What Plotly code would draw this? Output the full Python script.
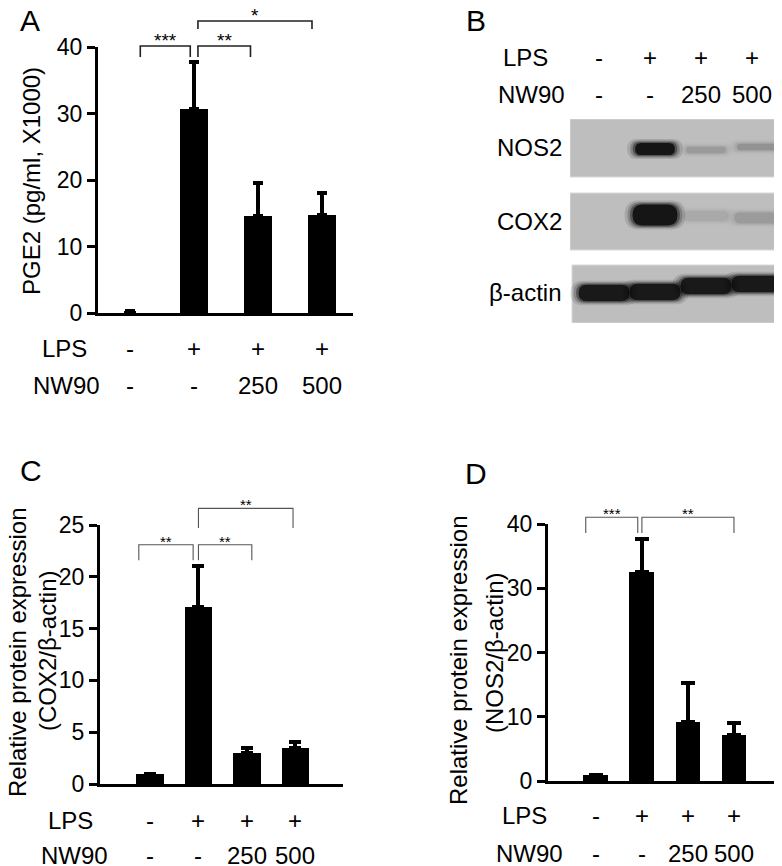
import plotly.graph_objects as go

## treatment rows shared by every panel
groups = [0, 1, 2, 3]
lps = ["-", "+", "+", "+"]
nw90 = ["-", "-", "250", "500"]

## A: PGE2 (pg/ml, x1000), mean and upper error
pge2_mean = [0.25, 30.7, 14.6, 14.7]
pge2_err = [None, 7.1, 4.9, 3.3]

## C: COX2 / beta-actin
cox2_mean = [1.0, 17.1, 3.0, 3.5]
cox2_err = [None, 3.9, 0.5, 0.6]

## D: NOS2 / beta-actin
nos2_mean = [1.0, 32.5, 9.2, 7.1]
nos2_err = [None, 5.1, 6.0, 1.9]

## B: western blot, band intensity per lane (0 = no band, 1 = saturated)
blot_labels = ["NOS2", "COX2", "β-actin"]
nos2_band = [0.0, 1.0, 0.13, 0.16]
cox2_band = [0.0, 1.0, 0.07, 0.12]
actin_band = [0.95, 0.95, 0.95, 0.95]

## significance brackets: (from group, to group, label)
sig_a = [(0.16, 0.94, "***"), (1.06, 1.88, "**"), (1.06, 2.84, "*")]
sig_c = [(-0.23, 0.89, "**"), (1.0, 2.1, "**"), (1.0, 2.95, "**")]
sig_d = [(-0.22, 0.91, "***"), (1.0, 3.0, "**")]

W, H = 782, 866
OFF = 8  # the page body margin moves the figure by this much
FONT = "Liberation Sans, Arial, Helvetica, sans-serif"


def px(x):
    return (x - OFF) / W


def py(y):
    return 1 - (y - OFF) / H


def label(fig, text, x, y, size=24, xref="paper", **kw):
    ## plain centred text; x in paper or data units, y in page pixels from the top
    fig.add_annotation(x=x, y=py(y), xref=xref, yref="paper", text=text, showarrow=False,
                       xanchor=kw.pop("xanchor", "center"), yanchor="middle",
                       font=dict(family=FONT, size=size, color="black"), **kw)


fig = go.Figure()

## bar panels: axis ids, pixel box, ranges, styling
panels = [
    dict(xa="x", ya="y", mean=pge2_mean, err=pge2_err, box=(98, 353, 313, 47), xr=[-0.5, 3.48],
         ymax=40, dtick=10, width=[0.2, 0.44, 0.44, 0.44], cap=5, sig=sig_a,
         levels=[(40.15, 38.5), (40.15, 38.5), (43.9, 42.7)], sig_style=(1.6, "#222222", 19),
         rows=(348, 385), rowlab=(64, 66), letter=("A", 30, 20)),
    dict(xa="x2", ya="y2", mean=cox2_mean, err=cox2_err, box=(100, 343, 784, 525), xr=[-1.03, 3.98],
         ymax=25, dtick=5, width=[0.56] * 4, cap=6, sig=sig_c,
         levels=[(23.1, 21.6), (23.1, 21.6), (26.6, 24.7)], sig_style=(1.1, "#555555", 15),
         rows=(820, 855), rowlab=(70, 74), letter=("C", 31, 470)),
    dict(xa="x3", ya="y3", mean=nos2_mean, err=nos2_err, box=(548, 780, 781, 524), xr=[-1.04, 4.0],
         ymax=40, dtick=10, width=[0.54] * 4, cap=7, sig=sig_d,
         levels=[(41.06, 38.6), (41.06, 38.6)], sig_style=(1.1, "#555555", 15),
         rows=(815, 853), rowlab=(524, 529), letter=("D", 476, 474)),
]

for i, p in enumerate(panels):
    x0, x1, y0, y1 = p["box"]
    sfx = "" if i == 0 else str(i + 1)
    fig.add_trace(go.Bar(
        x=groups, y=p["mean"], width=p["width"], marker=dict(color="black", line=dict(width=0)),
        error_y=dict(type="data", array=p["err"], arrayminus=[0, 0, 0, 0], symmetric=False,
                     color="black", thickness=4, width=p["cap"]),
        xaxis=p["xa"], yaxis=p["ya"], showlegend=False, hoverinfo="skip"))
    fig.update_layout(**{
        "xaxis" + sfx: dict(domain=[px(x0), px(x1)], range=p["xr"], showline=True, linewidth=3,
                            linecolor="black", showgrid=False, zeroline=False, ticks="",
                            showticklabels=False, anchor=p["ya"], automargin=False),
        "yaxis" + sfx: dict(domain=[py(y0), py(y1)], range=[0, p["ymax"]], dtick=p["dtick"],
                            showline=True, linewidth=3, linecolor="black", showgrid=False,
                            zeroline=False, ticks="outside", ticklen=8, tickwidth=3,
                            tickcolor="black", anchor=p["xa"], automargin=False,
                            tickfont=dict(family=FONT, size=23, color="black")),
    })

    ## brackets and asterisks, y given in data units then mapped onto the axis domain
    lw, lc, fs = p["sig_style"]
    for (a, b, lab), (top, low) in zip(p["sig"], p["levels"]):
        t, l = top / p["ymax"], low / p["ymax"]
        fig.add_shape(type="path", xref=p["xa"], yref=p["ya"] + " domain",
                      path=f"M {a},{l} L {a},{t} L {b},{t} L {b},{l}",
                      line=dict(color=lc, width=lw))
        fig.add_annotation(x=(a + b) / 2, xref=p["xa"], y=t, yref=p["ya"] + " domain",
                           text=lab, showarrow=False, xanchor="center", yanchor="bottom",
                           yshift=-7, font=dict(family=FONT, size=fs, color="black"))

    ## LPS / NW90 rows under the axis
    r1, r2 = p["rows"]
    for g, a, b in zip(groups, lps, nw90):
        label(fig, a, g, r1, xref=p["xa"])
        label(fig, b, g, r2, xref=p["xa"])
    label(fig, "LPS", px(p["rowlab"][0]), r1)
    label(fig, "NW90", px(p["rowlab"][1]), r2)

    let, lx, ly = p["letter"]
    label(fig, let, px(lx), ly, size=30)

## y axis titles
titles = [
    ("PGE2 (pg/ml, X1000)", 31, 181),
    ("Relative protein expression", 17, 652),
    ("(COX2/β-actin)", 47, 651),
    ("Relative protein expression", 458, 660),
    ("(NOS2/β-actin)", 494, 653),
]
for txt, tx, ty in titles:
    label(fig, txt, px(tx), ty, textangle=-90)

## B: western blot on its own axes, x in lanes, y in page pixels
LANE_PX = 51.0
blot_x = [(570 - 604) / LANE_PX, (W + OFF - 604) / LANE_PX]
fig.update_layout(
    xaxis4=dict(domain=[px(570), 1.0], range=blot_x, visible=False, anchor="y4"),
    yaxis4=dict(domain=[py(323), py(119)], range=[323, 119], visible=False, anchor="x4"),
)
fig.add_trace(go.Scatter(x=groups, y=[150, 150, 150, 150], mode="markers", marker=dict(opacity=0),
                         xaxis="x4", yaxis="y4", showlegend=False, hoverinfo="skip"))

blot_rows = [
    ## band values, strip top/bottom, band centre y per lane, band half width (lanes), band height (px)
    dict(vals=nos2_band, strip=(119, 177), yc=[149, 149, 150, 147], hw=0.39, h=12),
    dict(vals=cox2_band, strip=(193, 250), yc=[215, 215, 216, 218], hw=0.44, h=21),
    dict(vals=actin_band, strip=(265, 323), yc=[293, 292, 286, 284], hw=0.50, h=17),
]


def band_path(xc, yc, hw, h):
    r = (h / 2) / LANE_PX
    a, b = xc - hw, xc + hw
    t, u = yc - h / 2, yc + h / 2
    return (f"M {a + r},{t} L {b - r},{t} Q {b},{t} {b},{yc} Q {b},{u} {b - r},{u} "
            f"L {a + r},{u} Q {a},{u} {a},{yc} Q {a},{t} {a + r},{t} Z")


for k, row in enumerate(blot_rows):
    s0, s1 = row["strip"]
    left = blot_x[0] if k < 2 else blot_x[0] + 2 / LANE_PX
    fig.add_shape(type="rect", xref="x4", yref="y4", x0=left, x1=blot_x[1] + 1, y0=s0, y1=s1,
                  fillcolor="#bebebe", line=dict(color="#d8d8d8", width=1), layer="above")
    for g, v, yc in zip(groups, row["vals"], row["yc"]):
        if v <= 0:
            continue
        h = row["h"] * (0.45 + 0.55 * v)
        for grow, op in [(8, 0.12), (5, 0.22), (2.5, 0.4), (0, 0.85)]:
            fig.add_shape(type="path", xref="x4", yref="y4", layer="above",
                          path=band_path(g, yc, row["hw"] + grow / LANE_PX, h + grow),
                          fillcolor="#0a0a0a", opacity=min(1.0, op * v), line=dict(width=0))
    label(fig, blot_labels[k], px(564), sum(row["strip"]) / 2 + (-2 if k == 2 else 0),
          xanchor="right")

for g, a, b in zip(groups, lps, nw90):
    label(fig, a, g, 58, xref="x4", xshift=-5)
    label(fig, b, g, 95, xref="x4", xshift=-5)
label(fig, "LPS", px(525), 58)
label(fig, "NW90", px(531), 95)
label(fig, "B", px(476), 20, size=30)

fig.update_layout(width=W, height=H, margin=dict(l=0, r=0, t=0, b=0, autoexpand=False),
                  paper_bgcolor="white", plot_bgcolor="white", bargap=0,
                  font=dict(family=FONT, color="black"))

fig.write_html("out.html")
